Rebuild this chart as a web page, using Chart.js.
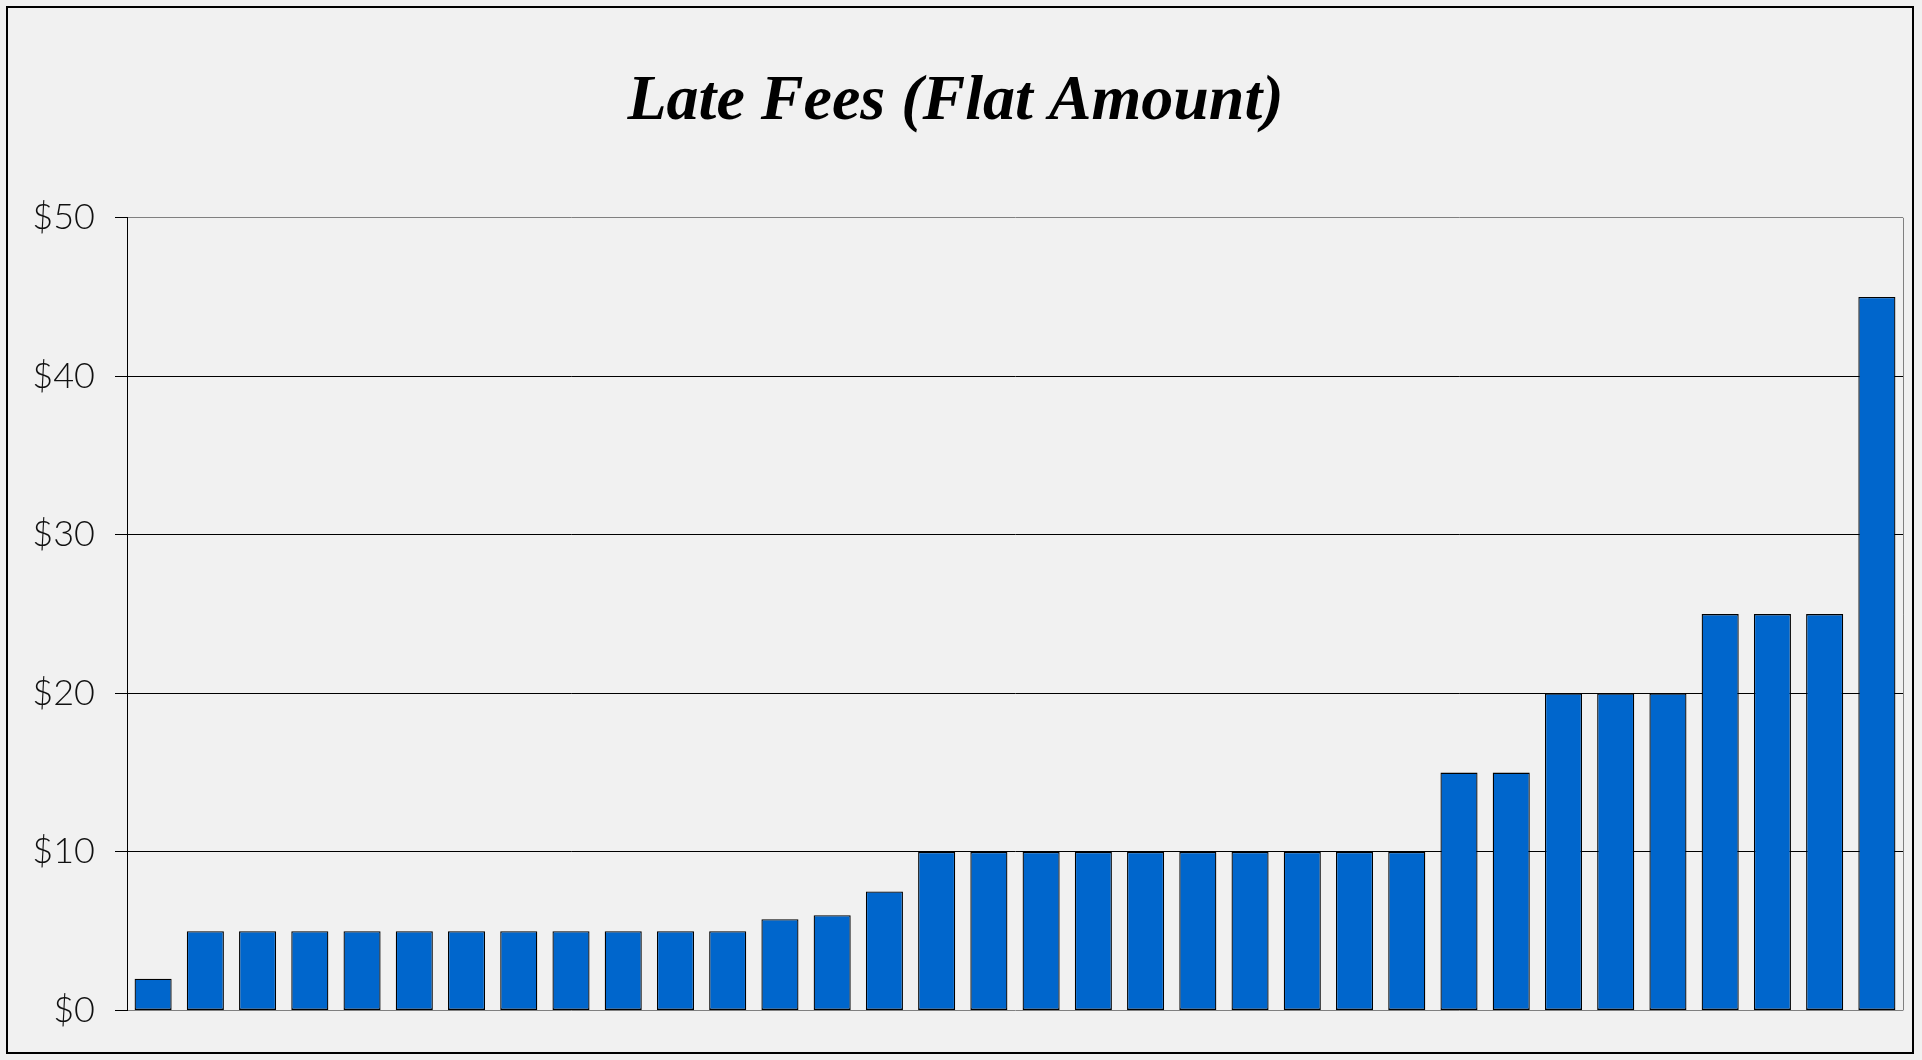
<!DOCTYPE html>
<html>
<head>
<meta charset="utf-8">
<script src="https://cdn.jsdelivr.net/npm/chart.js@4.4.1/dist/chart.umd.min.js"></script>
<style>
  html, body { margin: 0; padding: 0; background: #f1f1f1; }
  #frame {
    position: absolute; left: 6px; top: 6px;
    width: 1908px; height: 1048px;
    box-sizing: border-box; border: 2px solid #000;
    background: #f1f1f1;
  }
</style>
</head>
<body>
<div id="frame"><canvas id="feeChart"></canvas></div>
<script>
// one bar per lender, sorted by flat late fee
const categories = ["1","2","3","4","5","6","7","8","9","10","11","12","13","14","15","16","17",
  "18","19","20","21","22","23","24","25","26","27","28","29","30","31","32","33","34"];
const lateFees = [2, 5, 5, 5, 5, 5, 5, 5, 5, 5, 5, 5, 5.75, 6, 7.5,
  10, 10, 10, 10, 10, 10, 10, 10, 10, 10, 15, 15, 20, 20, 20, 25, 25, 25, 45];
const yTicks = [0, 10, 20, 30, 40, 50];

// gray frame line on the right side of the plot
const rightEdge = {
  id: "rightEdge",
  beforeDatasetsDraw(chart) {
    const {ctx, chartArea} = chart;
    ctx.save();
    ctx.strokeStyle = "#808080";
    ctx.lineWidth = 1;
    ctx.beginPath();
    ctx.moveTo(Math.round(chartArea.right) + 0.5, chartArea.top);
    ctx.lineTo(Math.round(chartArea.right) + 0.5, chartArea.bottom);
    ctx.stroke();
    ctx.restore();
  }
};

const ctx = document.getElementById("feeChart");
const myChart = new Chart(ctx, {
  type: "bar",
  data: {
    labels: categories,
    datasets: [{
      label: "Late Fee",
      data: lateFees,
      backgroundColor: "#0066cc",
      borderColor: "#000000",
      borderWidth: 1.3,
      borderSkipped: false,
      categoryPercentage: 1,
      barPercentage: 0.71
    }]
  },
  options: {
    responsive: true,
    maintainAspectRatio: false,
    animation: false,
    layout: { padding: { left: 0, right: 9, top: 0, bottom: 27 } },
    plugins: {
      legend: { display: false },
      tooltip: { enabled: false },
      title: {
        display: true,
        text: "Late Fees (Flat Amount)",
        color: "#000",
        font: { family: "'Liberation Serif', serif", size: 64, style: "italic", weight: "bold", lineHeight: 1.2 },
        padding: { top: 56, bottom: 77 }
      }
    },
    scales: {
      x: {
        ticks: { display: false },
        grid: { display: false },
        border: { display: false }
      },
      y: {
        min: 0,
        max: 50,
        afterFit(scale) { scale.width = 119; },
        afterBuildTicks(scale) { scale.ticks = yTicks.map(v => ({value: v})); },
        ticks: {
          padding: 20,
          color: "#111",
          font: { family: "Lato, 'Noto Sans', sans-serif", size: 36, weight: 300 },
          callback: v => "$" + v
        },
        grid: {
          color: c => (c.tick && (c.tick.value === 0 || c.tick.value === 50)) ? "#808080" : "#000",
          tickColor: "#000",
          tickLength: 12,
          lineWidth: 1
        },
        border: { color: "#000", width: 1 }
      }
    }
  },
  plugins: [rightEdge]
});
</script>
</body>
</html>
